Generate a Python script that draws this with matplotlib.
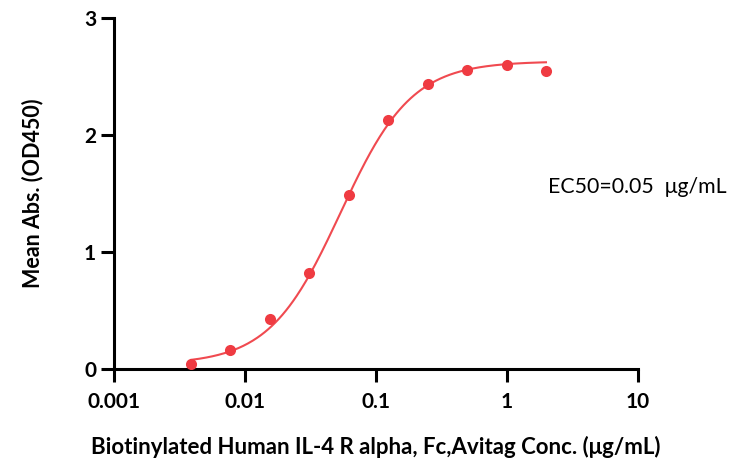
import numpy as np
import matplotlib
matplotlib.use("Agg")
import matplotlib.pyplot as plt
from matplotlib.ticker import FixedLocator, FixedFormatter

# measured points (ug/mL, OD450)
conc = [0.0039, 0.0078, 0.0156, 0.03125, 0.0625, 0.125, 0.25, 0.5, 1.0, 2.0]
od450 = [0.04, 0.16, 0.43, 0.82, 1.49, 2.13, 2.44, 2.56, 2.60, 2.55]

# 4PL fit parameters
fit_bottom = 0.04
fit_top = 2.63
fit_ec50 = 0.054
fit_hill = 1.6

x_ticks = [0.001, 0.01, 0.1, 1, 10]
x_ticklabels = ['0.001', '0.01', '0.1', '1', '10']
y_ticks = [0, 1, 2, 3]

red = '#EF3B42'
plt.rcParams['font.family'] = ['Lato', 'DejaVu Sans']

fig = plt.figure(figsize=(7.44, 4.63), dpi=100)
ax = fig.add_axes([0.1526, 0.203, 0.8569 - 0.1526, 0.961 - 0.203])

xs = np.logspace(np.log10(conc[0]), np.log10(conc[-1]), 300)
ys = fit_bottom + (fit_top - fit_bottom) / (1 + (fit_ec50 / xs) ** fit_hill)
ax.plot(xs, ys, color='#F04A50', lw=1.5, zorder=2)
ax.plot(conc, od450, 'o', color=red, ms=8, mec='none', zorder=3)

ax.set_xscale('log')
ax.set_xlim(0.001, 10)
ax.set_ylim(0, 3)
ax.xaxis.set_major_locator(FixedLocator(x_ticks))
ax.xaxis.set_major_formatter(FixedFormatter(x_ticklabels))
ax.xaxis.set_minor_locator(FixedLocator([]))
ax.set_yticks(y_ticks)

for s in ['top', 'right']:
    ax.spines[s].set_visible(False)
for s in ['left', 'bottom']:
    ax.spines[s].set_linewidth(2.2)
ax.tick_params(axis='both', length=9.5, width=2.2, labelsize=15)
ax.tick_params(axis='x', pad=7)
ax.tick_params(axis='y', pad=3)
for lbl in ax.get_xticklabels() + ax.get_yticklabels():
    lbl.set_fontweight('bold')

ax.set_xlabel('Biotinylated Human IL-4 R alpha, Fc,Avitag Conc. (\u03bcg/mL)',
              fontsize=16, fontweight='bold', labelpad=17)
ax.set_ylabel('Mean Abs. (OD450)', fontsize=15.5, fontweight='bold', labelpad=29)

fig.text(0.7366, 0.596, 'EC50=0.05  \u03bcg/mL', fontsize=15.3, va='center', ha='left')

fig.savefig('out.png', dpi=100)
